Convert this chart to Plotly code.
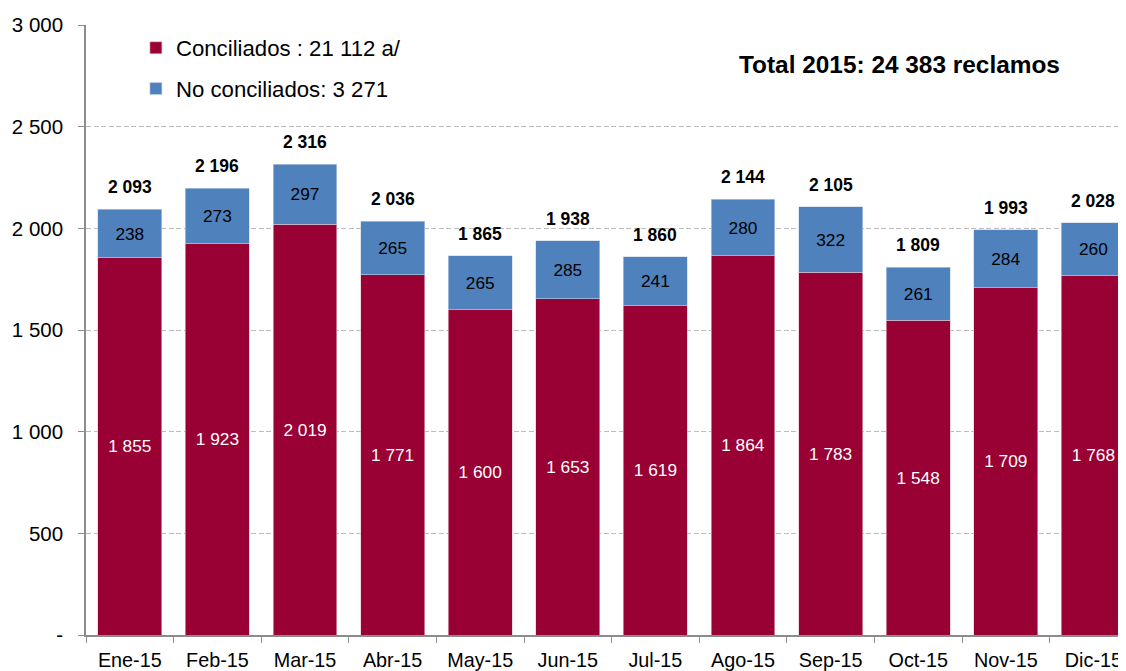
import plotly.graph_objects as go

months = ["Ene-15", "Feb-15", "Mar-15", "Abr-15", "May-15", "Jun-15",
          "Jul-15", "Ago-15", "Sep-15", "Oct-15", "Nov-15", "Dic-15"]
conciliados = [1855, 1923, 2019, 1771, 1600, 1653, 1619, 1864, 1783, 1548, 1709, 1768]
no_conciliados = [238, 273, 297, 265, 265, 285, 241, 280, 322, 261, 284, 260]
totales = [2093, 2196, 2316, 2036, 1865, 1938, 1860, 2144, 2105, 1809, 1993, 2028]
y_ticks = [0, 500, 1000, 1500, 2000, 2500, 3000]
y_ticktext = ["-", "500", "1 000", "1 500", "2 000", "2 500", "3 000"]

legend_conc = "Conciliados : 21 112 a/"
legend_noconc = "No conciliados: 3 271"
total_title = "Total 2015: 24 383 reclamos"

FONT = "Liberation Sans, Arial, sans-serif"
RED = "#990033"
BLUE = "#4F81BD"


def fmt(v):
    return f"{v:,}".replace(",", " ")


fig = go.Figure()
fig.add_trace(go.Bar(
    x=months, y=conciliados, name=legend_conc, legendgroup="a",
    marker=dict(color=RED, line=dict(width=0.6, color="#e6c2cc")),
    text=[fmt(v) for v in conciliados], textposition="inside",
    insidetextanchor="middle", textangle=0,
    textfont=dict(color="white", size=17.3, family=FONT),
))
fig.add_trace(go.Bar(
    x=months, y=no_conciliados, name=legend_noconc, legendgroup="b",
    marker=dict(color=BLUE, line=dict(width=0.6, color="#c8d6ea")),
    text=[fmt(v) for v in no_conciliados], textposition="inside",
    insidetextanchor="middle", textangle=0,
    textfont=dict(color="black", size=17.3, family=FONT),
))

annotations = []
for m, t in zip(months, totales):
    annotations.append(dict(
        x=m, y=t, xref="x", yref="y", text=f"<b>{fmt(t)}</b>",
        showarrow=False, yanchor="middle", yshift=22,
        font=dict(size=17.5, color="black", family=FONT),
    ))
annotations.append(dict(
    x=0.782, y=0.936, xref="paper", yref="paper",
    text=f"<b>{total_title}</b>", showarrow=False,
    xanchor="center", yanchor="middle",
    font=dict(size=24.4, color="black", family=FONT),
))

fig.update_layout(
    width=1118, height=663,
    margin=dict(l=78, r=0, t=17, b=34),
    paper_bgcolor="white", plot_bgcolor="white",
    barmode="stack", bargap=0.27,
    font=dict(family=FONT, color="black"),
    showlegend=True,
    legend=dict(
        x=0.048, y=0.997, xanchor="left", yanchor="top",
        traceorder="grouped", tracegroupgap=9,
        font=dict(size=22.2, family=FONT, color="black"),
        bgcolor="rgba(0,0,0,0)",
    ),
    annotations=annotations,
)
fig.update_xaxes(
    range=[-0.5, 11.372], showline=True, linecolor="#8c8c8c", linewidth=1.5,
    ticks="outside", tickson="boundaries", ticklen=6, tickcolor="#8c8c8c",
    ticklabelstandoff=6,
    tickfont=dict(size=19.8, family=FONT, color="black"),
    showgrid=False,
)
fig.update_yaxes(
    range=[0, 3000], tickvals=y_ticks, ticktext=y_ticktext,
    showline=True, linecolor="#8c8c8c", linewidth=1.5,
    ticks="outside", ticklen=6, tickcolor="#8c8c8c", ticklabelstandoff=11,
    tickfont=dict(size=20.5, family=FONT, color="black"),
    showgrid=True, gridcolor="#bdbdbd", griddash="5px,2.5px", gridwidth=1.3,
    zeroline=False,
)

fig.write_html("out.html")
